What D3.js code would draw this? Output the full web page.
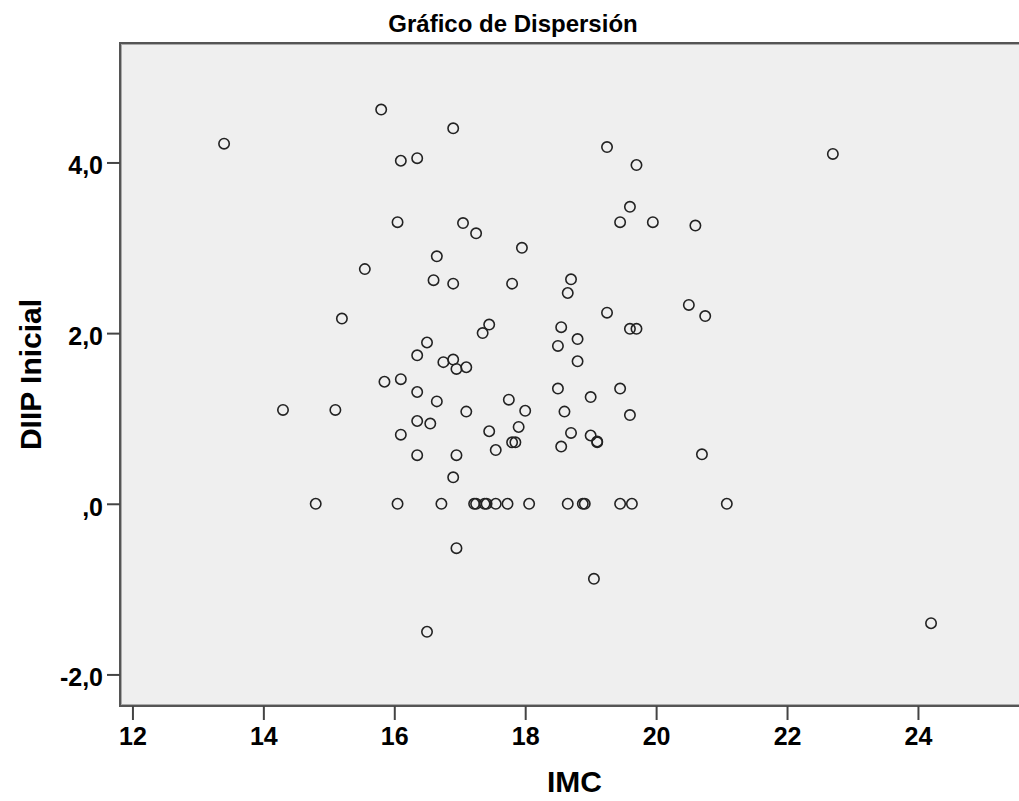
<!DOCTYPE html>
<html>
<head>
<meta charset="utf-8">
<script src="https://cdn.jsdelivr.net/npm/d3@7"></script>
<style>
  html, body { margin: 0; padding: 0; background: #ffffff; }
  svg { display: block; }
  text { font-family: "Liberation Sans", Arial, sans-serif; font-weight: bold; fill: #000; }
</style>
</head>
<body>
<script>
// ---- data ----
const chartTitle = "Gráfico de Dispersión";
const xTitle = "IMC";
const yTitle = "DIIP Inicial";
const xTicks = [12, 14, 16, 18, 20, 22, 24];
const yTicks = [-2, 0, 2, 4];
const yTickLabels = ["-2,0", ",0", "2,0", "4,0"];

const imc = [
  13.4, 15.8, 16.9, 16.1, 16.35, 19.25, 19.7, 22.7,
  16.05, 17.05, 17.25, 19.6, 19.45, 19.95, 20.6,
  17.95, 16.65, 15.55, 16.6, 16.9, 17.8, 18.7, 18.65, 20.5,
  15.2, 19.25, 20.75, 17.45, 17.35, 18.55, 19.6, 19.7,
  16.5, 18.8, 18.5, 16.35, 16.9, 16.75, 18.8, 16.95, 17.1,
  15.85, 16.1, 16.35, 18.5, 19.45,
  14.3, 15.1, 16.65, 17.75, 19.0, 17.1, 18.0, 18.6, 19.6,
  16.35, 16.55, 16.1, 17.45, 17.9, 18.7, 19.0,
  17.8, 17.85, 19.1, 19.1, 17.55, 18.55, 16.35, 16.95, 20.7, 16.9,
  14.8, 16.05, 16.72, 17.22, 17.25, 17.38, 17.41, 17.55, 17.73, 18.06, 18.65, 18.88, 18.91, 19.45, 19.63, 21.08,
  16.95, 19.05, 16.5, 24.2
];
const diip = [
  4.22, 4.62, 4.40, 4.02, 4.05, 4.18, 3.97, 4.10,
  3.30, 3.29, 3.17, 3.48, 3.30, 3.30, 3.26,
  3.00, 2.90, 2.75, 2.62, 2.58, 2.58, 2.63, 2.47, 2.33,
  2.17, 2.24, 2.20, 2.10, 2.00, 2.07, 2.05, 2.05,
  1.89, 1.93, 1.85, 1.74, 1.69, 1.66, 1.67, 1.58, 1.60,
  1.43, 1.46, 1.31, 1.35, 1.35,
  1.10, 1.10, 1.20, 1.22, 1.25, 1.08, 1.09, 1.08, 1.04,
  0.97, 0.94, 0.81, 0.85, 0.90, 0.83, 0.80,
  0.72, 0.72, 0.73, 0.72, 0.63, 0.67, 0.57, 0.57, 0.58, 0.31,
  0, 0, 0, 0, 0, 0, 0, 0, 0, 0, 0, 0, 0, 0, 0, 0,
  -0.52, -0.88, -1.50, -1.40
];

// ---- layout ----
const W = 1019, H = 801;
const plot = { left: 120, top: 43, right: 1024, bottom: 706 };

const svg = d3.select("body").append("svg").attr("width", W).attr("height", H);

const x = d3.scaleLinear().domain([11.81, 25.62]).range([plot.left, plot.right]);
const y = d3.scaleLinear().domain([-2.37, 5.40]).range([plot.bottom, plot.top]);

// plot background and frame
svg.append("rect")
  .attr("x", plot.left).attr("y", plot.top)
  .attr("width", plot.right - plot.left).attr("height", plot.bottom - plot.top)
  .attr("fill", "#efefef")
  .attr("stroke", "#555").attr("stroke-width", 2);
svg.append("rect")
  .attr("x", plot.left + 1.5).attr("y", plot.top + 1.5)
  .attr("width", plot.right - plot.left - 3).attr("height", plot.bottom - plot.top - 3)
  .attr("fill", "none")
  .attr("stroke", "#aaa").attr("stroke-width", 1);

// x axis
const xAxis = d3.axisBottom(x).tickValues(xTicks).tickSize(14).tickPadding(7).tickFormat(d3.format("d"));
const gx = svg.append("g").attr("transform", `translate(0,${plot.bottom})`).call(xAxis);
gx.select(".domain").remove();
gx.selectAll(".tick line").attr("stroke", "#444").attr("stroke-width", 2);
gx.selectAll(".tick text").style("font-size", "25px").attr("fill", "#000");

// y axis
const yAxis = d3.axisLeft(y).tickValues(yTicks).tickSize(13).tickPadding(4)
  .tickFormat((d, i) => yTickLabels[i]);
const gy = svg.append("g").attr("transform", `translate(${plot.left},0)`).call(yAxis);
gy.select(".domain").remove();
gy.selectAll(".tick line").attr("stroke", "#444").attr("stroke-width", 2);
gy.selectAll(".tick text").style("font-size", "25px").attr("fill", "#000").attr("dy", "0.45em");

// points
svg.append("g").selectAll("circle")
  .data(imc.map((v, i) => [v, diip[i]]))
  .join("circle")
  .attr("cx", d => x(d[0]))
  .attr("cy", d => y(d[1]))
  .attr("r", 5.2)
  .attr("fill", "none")
  .attr("stroke", "#222")
  .attr("stroke-width", 1.6);

// titles
svg.append("text")
  .attr("x", 513).attr("y", 32)
  .attr("text-anchor", "middle")
  .style("font-size", "24px")
  .text(chartTitle);

svg.append("text")
  .attr("x", (plot.left + 1019) / 2 + 5).attr("y", 792)
  .attr("text-anchor", "middle")
  .style("font-size", "30px")
  .text(xTitle);

svg.append("text")
  .attr("transform", `translate(41,${(plot.top + plot.bottom) / 2}) rotate(-90)`)
  .attr("text-anchor", "middle")
  .style("font-size", "30px")
  .text(yTitle);
</script>
</body>
</html>
